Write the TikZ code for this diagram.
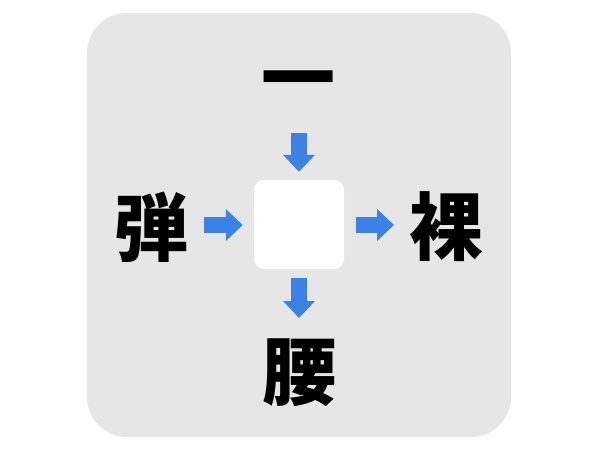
\documentclass[tikz,border=0pt]{standalone}
\usepackage{fontspec}
\newfontfamily\cjk{Noto Sans CJK JP}
\usetikzlibrary{arrows.meta}
\definecolor{panel}{RGB}{230,230,230}
\definecolor{arrowblue}{RGB}{60,130,228}
\tikzset{
  kanji/.style={inner sep=0pt, font=\cjk\bfseries\fontsize{74}{74}\selectfont},
  blk/.style={draw=arrowblue, line width=16pt, line cap=butt,
    -{Triangle[width=31pt,length=17pt]}}
}
\begin{document}
\begin{tikzpicture}[x=1pt,y=-1pt]
\useasboundingbox (0,0) rectangle (600,450);
\fill[panel, rounded corners=40pt] (87,13) rectangle (511,437);
\node[fill=white, rounded corners=10pt, minimum width=90pt, minimum height=89pt, inner sep=0pt] (box) at (299,224.5) {};
\node[kanji] (top) at (298,88) {一};
\node[kanji] (left) at (151,227) {弾};
\node[kanji] (right) at (446,227) {裸};
\node[kanji] (bottom) at (299,373) {腰};
\coordinate (ts) at (299,133);
\coordinate (ls) at (204,225);
\coordinate (re) at (394,225);
\coordinate (be) at (299,318);
\draw[blk, shorten >=8pt] (ts) -- (box.north);
\draw[blk, shorten >=11pt] (ls) -- (box.west |- ls);
\draw[blk, shorten <=12pt] (box.east |- re) -- (re);
\draw[blk, shorten <=9pt] (box.south) -- (be);
\end{tikzpicture}
\end{document}
